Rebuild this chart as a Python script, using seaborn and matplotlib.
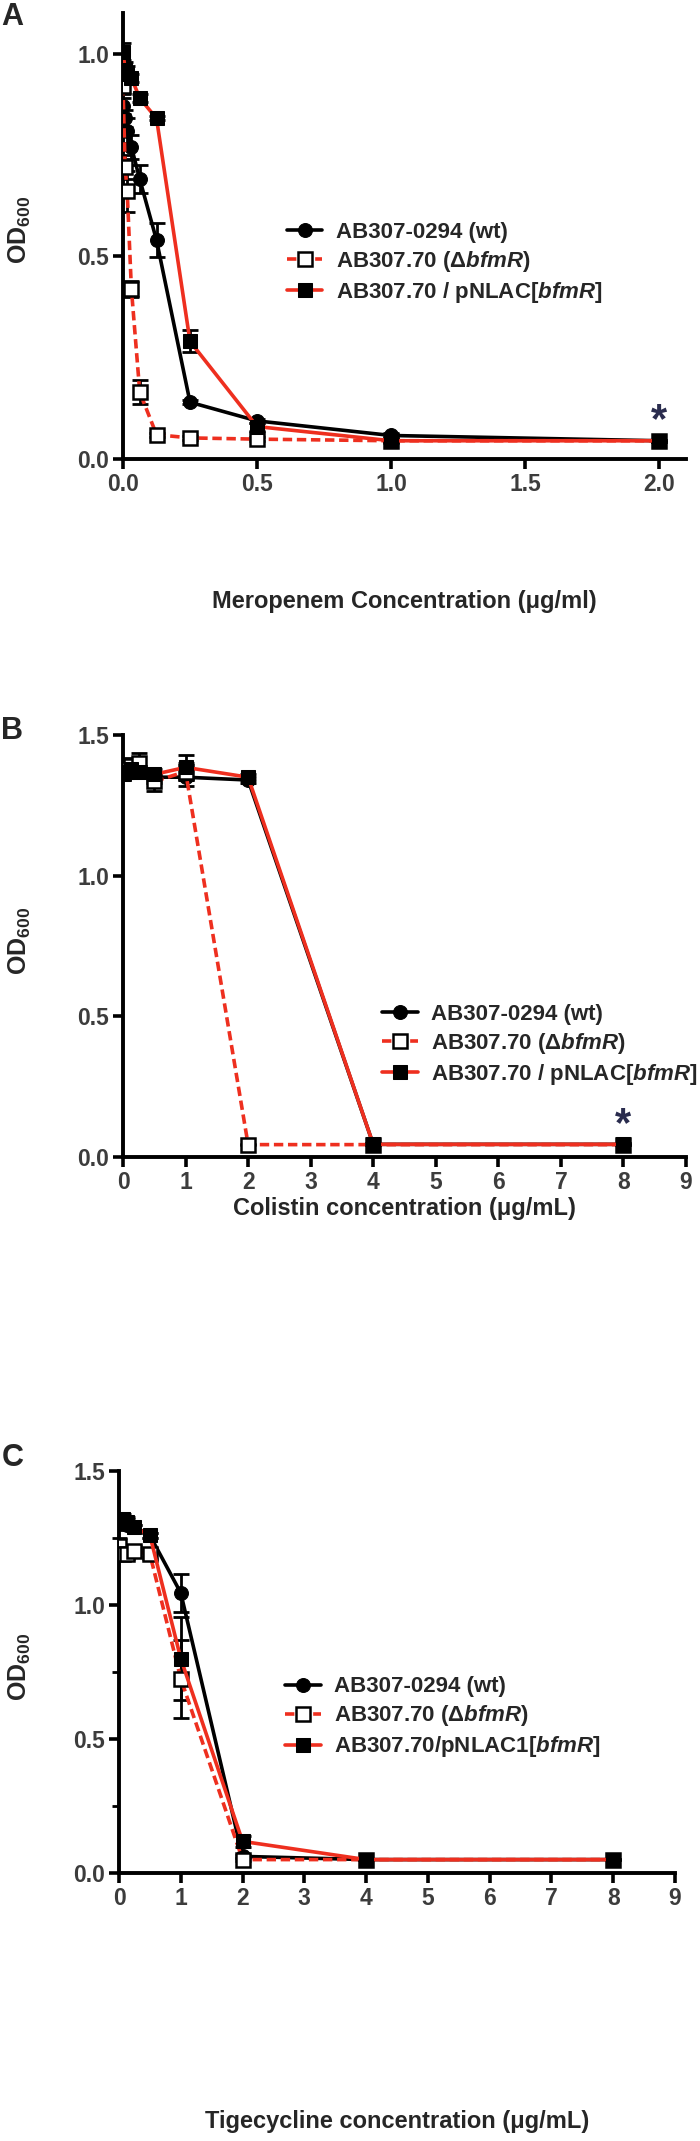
import numpy as np
import matplotlib
matplotlib.use('Agg')
import matplotlib.pyplot as plt
import seaborn as sns

# ---------------- data ----------------
# Panel A: meropenem
mero_conc = [0, 0.0078, 0.0156, 0.03125, 0.0625, 0.125, 0.25, 0.5, 1, 2]
mero_wt = [0.87, 0.84, 0.81, 0.77, 0.69, 0.54, 0.14, 0.094, 0.058, 0.045]
mero_wt_err = [0.02, 0.02, 0.03, 0.03, 0.035, 0.043, 0.005, 0.005, 0.005, 0.003]
mero_del = [0.92, 0.72, 0.66, 0.42, 0.165, 0.06, 0.052, 0.049, 0.045, 0.045]
mero_del_err = [0.02, 0.03, 0.05, 0.02, 0.03, 0.005, 0.005, 0.005, 0.003, 0.003]
mero_comp = [1.005, 0.96, 0.95, 0.94, 0.89, 0.84, 0.29, 0.08, 0.045, 0.045]
mero_comp_err = [0.02, 0.02, 0.02, 0.01, 0.01, 0.005, 0.027, 0.01, 0.005, 0.003]

# Panel B: colistin
col_conc = [0, 0.0625, 0.125, 0.25, 0.5, 1, 2, 4, 8]
col_wt = [1.36, 1.37, 1.38, 1.37, 1.35, 1.35, 1.34, 0.045, 0.045]
col_wt_err = [0.02, 0.02, 0.02, 0.02, 0.02, 0.03, 0.01, 0.003, 0.003]
col_del = [1.37, 1.38, 1.39, 1.40, 1.335, 1.37, 0.044, 0.044, 0.044]
col_del_err = [0.03, 0.03, 0.03, 0.035, 0.035, 0.03, 0.003, 0.003, 0.003]
col_comp = [1.36, 1.37, 1.38, 1.37, 1.36, 1.385, 1.35, 0.045, 0.045]
col_comp_err = [0.02, 0.02, 0.02, 0.02, 0.02, 0.045, 0.01, 0.003, 0.003]

# Panel C: tigecycline
tig_conc = [0, 0.0625, 0.125, 0.25, 0.5, 1, 2, 4, 8]
tig_wt = [1.31, 1.31, 1.30, 1.29, 1.26, 1.045, 0.062, 0.05, 0.05]
tig_wt_err = [0.02, 0.02, 0.02, 0.01, 0.01, 0.07, 0.005, 0.003, 0.003]
tig_del = [1.22, 1.19, 1.19, 1.20, 1.19, 0.725, 0.05, 0.05, 0.05]
tig_del_err = [0.03, 0.02, 0.02, 0.02, 0.02, 0.145, 0.005, 0.003, 0.003]
tig_comp = [1.31, 1.32, 1.31, 1.29, 1.26, 0.80, 0.118, 0.05, 0.05]
tig_comp_err = [0.02, 0.02, 0.02, 0.01, 0.01, 0.155, 0.02, 0.003, 0.003]

panel_letters = ['A', 'B', 'C']
x_labels = ['Meropenem Concentration (μg/ml)',
            'Colistin concentration (μg/mL)',
            'Tigecycline concentration (μg/mL)']
label_wt = 'AB307-0294 (wt)'
label_del = 'AB307.70 (Δ$\\mathit{bfmR}$)'
label_comp_ab = 'AB307.70 / pNLAC[$\\mathit{bfmR}$]'
label_comp_c = 'AB307.70/pNLAC1[$\\mathit{bfmR}$]'

RED = '#ee2f1f'
GREY = '#3c3c3c'
STAR = '#2a2c4e'

sns.set_style('ticks')
plt.rcParams['font.family'] = ['Liberation Sans', 'DejaVu Sans']
plt.rcParams['font.weight'] = 'bold'
plt.rcParams['mathtext.fontset'] = 'custom'
plt.rcParams['mathtext.rm'] = 'Liberation Sans:bold'
plt.rcParams['mathtext.it'] = 'Liberation Sans:bold:italic'
plt.rcParams['mathtext.bf'] = 'Liberation Sans:bold'

fig = plt.figure(figsize=(7, 21.41), dpi=100)

# axes rectangles in figure fractions (pixel positions measured on the reference)
rects = [
    [123 / 700, (2141 - 459) / 2141, 563 / 700, 446 / 2141],
    [123 / 700, (2141 - 1157) / 2141, 563 / 700, 422 / 2141],
    [119 / 700, (2141 - 1873) / 2141, 556 / 700, 402 / 2141],
]
xlabel_y = [-0.3206, -0.1232, -0.619]
ylabel_x = [-0.183, -0.183, -0.178]
letter_top = [0.999, 1 - 716 / 2141, 1 - 1443 / 2141]
legend_pos = [(0.291, 0.439), (0.46, 0.265), (0.2986, 0.386)]

panels = [
    (mero_conc, mero_wt, mero_wt_err, mero_del, mero_del_err, mero_comp, mero_comp_err, label_comp_ab),
    (col_conc, col_wt, col_wt_err, col_del, col_del_err, col_comp, col_comp_err, label_comp_ab),
    (tig_conc, tig_wt, tig_wt_err, tig_del, tig_del_err, tig_comp, tig_comp_err, label_comp_c),
]

axes = []
for i, (rect, p) in enumerate(zip(rects, panels)):
    ax = fig.add_axes(rect)
    axes.append(ax)
    x, wt, wt_e, dl, dl_e, cp, cp_e, lab_cp = p

    # error bars
    for yy, ee in [(wt, wt_e), (dl, dl_e), (cp, cp_e)]:
        ax.errorbar(x, yy, yerr=ee, fmt='none', ecolor='black', elinewidth=2,
                    capsize=5.5, capthick=2, zorder=3)

    sns.lineplot(x=x, y=wt, ax=ax, color='black', lw=2.6, marker='o', markersize=10,
                 markeredgecolor='black', markerfacecolor='black', label=label_wt, zorder=4)
    sns.lineplot(x=x, y=dl, ax=ax, color=RED, lw=2.6, linestyle=(0, (2.6, 1.3)), marker='s',
                 markersize=9.5, markeredgecolor='black', markerfacecolor='white',
                 markeredgewidth=1.8, label=label_del, zorder=5)
    sns.lineplot(x=x, y=cp, ax=ax, color=RED, lw=2.6, marker='s', markersize=9.5,
                 markeredgecolor='black', markerfacecolor='black', label=lab_cp, zorder=6)

    for side in ['top', 'right']:
        ax.spines[side].set_visible(False)
    for side in ['left', 'bottom']:
        ax.spines[side].set_linewidth(2.8)
        ax.spines[side].set_color('black')
    ax.tick_params(axis='both', which='major', direction='out', length=7, width=2.6,
                   labelsize=16.5, labelcolor=GREY, color='black', pad=3)
    ax.tick_params(axis='both', which='minor', direction='out', length=5, width=2.0, color='black')

    ax.set_ylabel('OD$_{600}$', fontsize=18, fontweight='bold')
    ax.yaxis.set_label_coords(ylabel_x[i], 0.513)
    ax.yaxis.label.set_verticalalignment('center')
    ax.set_xlabel(x_labels[i], fontsize=17, fontweight='bold')
    ax.xaxis.set_label_coords(0.5, xlabel_y[i])
    ax.xaxis.label.set_verticalalignment('center')

    fig.text(0.002, letter_top[i], panel_letters[i], fontsize=22, fontweight='bold',
             ha='left', va='top')

# per-panel limits and ticks
axes[0].set_xlim(0, 2.1)
axes[0].set_ylim(0, 1.1)
axes[0].set_xticks([0, 0.5, 1.0, 1.5, 2.0])
axes[0].set_xticklabels(['0.0', '0.5', '1.0', '1.5', '2.0'])
axes[0].set_yticks([0, 0.5, 1.0])
axes[0].set_yticklabels(['0.0', '0.5', '1.0'])

for ax in axes[1:]:
    ax.set_xlim(0, 9)
    ax.set_ylim(0, 1.5)
    ax.set_xticks(range(0, 10))
    ax.set_yticks([0, 0.5, 1.0, 1.5])
    ax.set_yticklabels(['0.0', '0.5', '1.0', '1.5'])
axes[2].set_yticks([0.25, 0.75, 1.25], minor=True)

for ax in axes:
    for t in ax.get_xticklabels() + ax.get_yticklabels():
        t.set_fontweight('bold')

# significance asterisks
axes[0].text(2.0, 0.066, '*', fontsize=30, color=STAR, ha='center', va='baseline')
axes[1].text(8.0, 0.075, '*', fontsize=30, color=STAR, ha='center', va='baseline')

# legends
for ax, anc in zip(axes, legend_pos):
    ax.legend(loc='center left', bbox_to_anchor=anc, frameon=False, fontsize=16,
              handlelength=1.6, handletextpad=0.6, labelspacing=0.27,
              borderaxespad=0, borderpad=0)

fig.savefig('out.png', dpi=100)
